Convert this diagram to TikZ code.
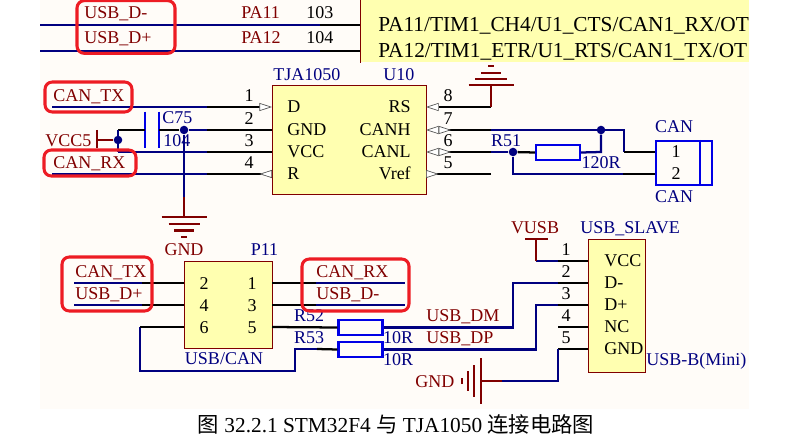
\documentclass[tikz,border=0pt]{standalone}
\usepackage{fontspec}
\setmainfont{Liberation Serif}
\newfontfamily\cjk{Noto Sans CJK SC}
\usepackage{tikz}
\usetikzlibrary{arrows.meta}
\definecolor{scBack}{HTML}{FFFCF8}
\definecolor{scChip}{HTML}{FFFFB0}
\definecolor{scEdge}{HTML}{800000}
\definecolor{scNavy}{HTML}{000080}
\definecolor{scBlue}{HTML}{0000E6}
\definecolor{scMark}{HTML}{ED1C24}
\definecolor{scTip}{HTML}{505050}

\begin{document}
\begin{tikzpicture}[
    x=0.75pt, y=-0.75pt,
    txt/.style={font=\fontsize{13.5}{14}\selectfont, inner sep=0pt, text height=8.9pt, text depth=0pt},
    net/.style={txt, text=scEdge},
    des/.style={txt, text=scNavy},
    pinno/.style={txt, text=black},
    chip/.style={rectangle, draw=scEdge, line width=0.7pt, fill=scChip, inner sep=0pt},
    res/.style={rectangle, draw=scBlue, line width=1.8pt, fill=none, inner sep=0pt, minimum width=33pt, minimum height=11.25pt},
    redring/.style={rectangle, draw=scMark, line width=2.3pt, rounded corners=5.5pt, fill=none, inner sep=0pt},
    bus/.style={draw=scNavy, line width=1.7pt},
    stub/.style={draw=black, line width=1.7pt},
    pow/.style={draw=scEdge, line width=1.7pt},
    dot/.style={circle, fill=scNavy, inner sep=0pt, minimum size=6.4pt},
    intip/.style={-{Triangle[length=9.5pt,width=6pt,fill=white,color=scTip,line width=0.5pt]}},
    outtip/.style={-{Triangle[reversed,length=9.5pt,width=6pt,fill=white,color=scTip,line width=0.5pt]}},
    iotip/.style={-{Triangle[reversed,length=9.5pt,width=6pt,fill=white,color=scTip,line width=0.5pt]Triangle[length=9.5pt,width=6pt,fill=white,color=scTip,line width=0.5pt]}},
  ]
  \useasboundingbox (0,0) rectangle (799,442);
  \fill[scBack] (40,0) rectangle (749,409);
  % MCU strip
  \node[rectangle, fill=scChip, inner sep=0pt, anchor=north west, minimum width=291.75pt, minimum height=46.5pt] (MCU) at (360,0) {};
  \draw[draw=scEdge, line width=0.7pt] (MCU.north west) -- (MCU.south west);
  \node[txt, anchor=west, font=\fontsize{16}{17}\selectfont] (mcuA) at (378,26) {PA11/TIM1\_CH4/U1\_CTS/CAN1\_RX/OT};
  \node[txt, anchor=west, font=\fontsize{16}{17}\selectfont] (mcuB) at (378,52) {PA12/TIM1\_ETR/U1\_RTS/CAN1\_TX/OT};
  % parts
  \node[chip, minimum width=115.5pt, minimum height=81.4pt] (U10) at (349,140) {};
  \node[chip, minimum width=66pt, minimum height=65.25pt] (P11) at (228,304.5) {};
  \node[chip, minimum width=43.1pt, minimum height=99.75pt] (USB) at (616.75,305.5) {};
  \node[rectangle, draw=scBlue, line width=1.8pt, fill=none, inner sep=0pt, minimum width=42pt, minimum height=33pt] (CAN) at (684,163) {};
  \draw[draw=scBlue, line width=1.8pt] ([xshift=33.75pt]CAN.north west) -- ([xshift=33.75pt]CAN.south west);
  \node[res] (R51) at (558,152.5) {};
  \node[res] (R52) at (360.5,327.5) {};
  \node[res] (R53) at (360.5,349.5) {};
  \node[inner sep=0pt, minimum width=10.5pt, minimum height=27pt] (C75) at (152,130) {};
  \draw[draw=scBlue, line width=1.8pt] (C75.north west) -- (C75.south west);
  \draw[draw=scBlue, line width=1.8pt] (C75.north east) -- (C75.south east);
  % points
  \coordinate (mA) at (360,25);
  \coordinate (mB) at (360,51);
  \coordinate (mC) at (320,25);
  \coordinate (mD) at (320,51);
  \coordinate (mE) at (40,25);
  \coordinate (mF) at (40,51);
  \foreach \n/\y in {1/107,2/130,3/152,4/174}{
    \coordinate (Ua\n) at (272,\y);
    \coordinate (Ub\n) at (207,\y);
    \node[pinno] (Un\n) at (249,\y-11) {\n};
  }
  \foreach \n/\y in {8/107,7/130,6/152,5/174}{
    \coordinate (Uc\n) at (426,\y);
    \coordinate (Ud\n) at (491,\y);
    \node[pinno] (Un\n) at (448,\y-11) {\n};
  }
  \foreach \n/\y in {1/261,2/283,3/305,4/327,5/349}{
    \coordinate (Ja\n) at (588,\y);
    \coordinate (Jb\n) at (558,\y);
    \node[pinno] (Jn\n) at (566,\y-11) {\n};
  }
  \foreach \n/\y in {2/283,4/305,6/327}{
    \coordinate (Pa\n) at (184,\y);
    \coordinate (Pb\n) at (142,\y);
    \node[pinno] (Pn\n) at (204,\y+0.5) {\n};
  }
  \foreach \n/\y in {1/283,3/305,5/327}{
    \coordinate (Pa\n) at (272,\y);
    \coordinate (Pb\n) at (316,\y);
    \node[pinno] (Pn\n) at (252,\y+0.5) {\n};
  }
  \node[dot] (jA) at (184,130) {};
  \node[dot] (jB) at (118,140) {};
  \node[dot] (jC) at (601,130) {};
  \node[dot] (jD) at (513,152) {};
  \coordinate (Gl) at (184,217);
  \coordinate (Gm) at (184,197);
  \coordinate (Gr) at (491,85);
  \coordinate (Gb) at (481,381);
  \coordinate (vA) at (97,140);
  \coordinate (vD) at (97,130);
  \coordinate (vE) at (97,148);
  \coordinate (cT) at (118,130);
  \coordinate (cB) at (118,152);
  \coordinate (tS) at (52,107);
  \coordinate (rS) at (52,174);
  % MCU nets
  \draw[bus] (mE) -- (mC);
  \draw[bus] (mF) -- (mD);
  \draw[stub] (mC) -- (mA);
  \draw[stub] (mD) -- (mB);
  % TJA1050 left
  \draw[bus] (tS) -- (Ub1);
  \draw[stub, intip] (Ub1) -- (Ua1);
  \draw[bus] (jA) -- (Ub2);
  \draw[stub] (Ub2) -- (Ua2);
  \draw[bus] (cB) -- (Ub3);
  \draw[stub] (Ub3) -- (Ua3);
  \draw[bus] (rS) -- (Ub4);
  \draw[stub, outtip] (Ub4) -- (Ua4);
  \draw[stub] (cT) -- (C75.west);
  \draw[stub] (C75.east) -- (jA);
  \draw[bus] (cT) -- (cB);
  \draw[bus] (jA) -- (Gm);
  \draw[pow] (Gm) -- (Gl);
  \draw[pow] (vA) -- (jB);
  \draw[pow] (vD) -- (vE);
  \foreach \off/\half in {0/22.5,7/15.5,13.5/10,20/3}{
    \draw[pow] ([shift={(-\half,\off)}]Gl) -- ([shift={(\half,\off)}]Gl);
  }
  % TJA1050 right
  \draw[stub, intip] (Ud8) -- (Uc8);
  \draw[pow] (Ud8) -- (Gr);
  \foreach \off/\half in {0/22.5,-6/16,-12/10,-19/3}{
    \draw[pow] ([shift={(-\half,\off)}]Gr) -- ([shift={(\half,\off)}]Gr);
  }
  \coordinate (wA) at (624,130);
  \coordinate (wB) at (624,152);
  \coordinate (wC) at (513,174);
  \coordinate (wD) at (623,174);
  \coordinate (wE) at (601,152);
  \draw[bus] (Ud7) -- (wA) -- (wB);
  \draw[stub] (wB) -- (CAN.west |- wB);
  \draw[bus] (Ud6) -- (jD);
  \draw[stub] (jD) -- (R51.west);
  \draw[bus] (R51.east) -- (wE) -- (jC);
  \draw[bus] (jD) -- (wC) -- (wD);
  \draw[stub] (wD) -- (CAN.west |- wD);
  \draw[stub, iotip] (Ud7) -- (Uc7);
  \draw[stub, iotip] (Ud6) -- (Uc6);
  \draw[stub, outtip] (Ud5) -- (Uc5);
  % P11 nets
  \coordinate (kA) at (74,283);
  \coordinate (kB) at (74,305);
  \coordinate (kC) at (405,283);
  \coordinate (kD) at (405,305);
  \draw[bus] (kA) -- (Pb2);
  \draw[bus] (kB) -- (Pb4);
  \draw[stub] (Pb2) -- (Pa2);
  \draw[stub] (Pb4) -- (Pa4);
  \draw[stub] (Pb1) -- (Pa1);
  \draw[stub] (Pb3) -- (Pa3);
  \draw[bus] (Pb1) -- (kC);
  \draw[bus] (Pb3) -- (kD);
  \coordinate (lA) at (140,327);
  \coordinate (lB) at (140,371);
  \coordinate (lC) at (295,371);
  \coordinate (lD) at (295,349);
  \coordinate (lE) at (317,349);
  \draw[bus] (lA) -- (lB) -- (lC) -- (lD) -- (lE);
  \draw[stub] (lE) -- (R53.west);
  \draw[stub] (lA) -- (Pa6);
  \draw[stub] (Pa5) -- (R52.west);
  % USB connector nets
  \coordinate (dA) at (513,327.5);
  \coordinate (dB) at (513,283);
  \coordinate (dC) at (536,349.5);
  \coordinate (dD) at (536,305);
  \draw[bus] (R52.east) -- (dA) -- (dB) -- (Jb2);
  \draw[bus] (R53.east) -- (dC) -- (dD) -- (Jb3);
  \foreach \n in {1,2,3,4,5}{
    \draw[stub] (Jb\n) -- (Ja\n);
  }
  \coordinate (vB) at (536,261);
  \coordinate (vC) at (536,239);
  \coordinate (vF) at (525,239);
  \coordinate (vG) at (548,239);
  \draw[bus] (Jb1) -- (vB);
  \draw[pow] (vB) -- (vC);
  \draw[draw=scEdge, line width=2.2pt] (vF) -- (vG);
  \coordinate (gA) at (558,381);
  \coordinate (gB) at (502,381);
  \draw[bus] (Jb5) -- (gA) -- (gB);
  \draw[pow] (gB) -- (Gb);
  \foreach \off/\half in {0/23,-7/16,-13/10,-19/3}{
    \draw[pow] ([shift={(\off,-\half)}]Gb) -- ([shift={(\off,\half)}]Gb);
  }
  % net labels
  \node[net, anchor=west] (tA) at (84,13) {USB\_D-};
  \node[net, anchor=west] (tB) at (84,38) {USB\_D+};
  \node[net, anchor=west] (tC) at (241,13) {PA11};
  \node[net, anchor=west] (tD) at (241,38) {PA12};
  \node[pinno, anchor=west] (tE) at (306,13) {103};
  \node[pinno, anchor=west] (tF) at (306,38) {104};
  \node[net, anchor=west] (tG) at (53,96) {CAN\_TX};
  \node[net, anchor=west] (tH) at (53,163) {CAN\_RX};
  \node[net, anchor=west] (tI) at (45,141) {VCC5};
  \node[des, anchor=west] (tJ) at (273,75) {TJA1050};
  \node[des, anchor=west] (tK) at (383,75) {U10};
  \node[des, anchor=west] (tL) at (162,118) {C75};
  \node[des, anchor=west] (tM) at (163,141) {104};
  \node[net] (tN) at (184,250) {GND};
  \foreach \s/\y in {D/107,GND/130,VCC/152,R/174}{
    \node[txt, anchor=west] (In\s) at (287,\y) {\s};
  }
  \foreach \s/\y in {RS/107,CANH/130,CANL/152,Vref/174}{
    \node[txt, anchor=east] (In\s) at (411,\y) {\s};
  }
  \node[des] (tO) at (506,141) {R51};
  \node[des] (tP) at (601,163) {120R};
  \node[des] (tQ) at (674,127) {CAN};
  \node[des] (tR) at (674,197) {CAN};
  \node[pinno] (tS1) at (676,152) {1};
  \node[pinno] (tS2) at (676,174) {2};
  \node[des] (tT) at (264.5,250) {P11};
  \node[net, anchor=west] (tU) at (75,272) {CAN\_TX};
  \node[net, anchor=west] (tV) at (75,294) {USB\_D+};
  \node[net, anchor=west] (tW) at (316,272) {CAN\_RX};
  \node[net, anchor=west] (tX) at (316,294) {USB\_D-};
  \node[des] (tY) at (224,359) {USB/CAN};
  \node[des] (tZ) at (309,316) {R52};
  \node[des] (uA) at (309,338) {R53};
  \node[des] (uB) at (398,338) {10R};
  \node[des] (uC) at (398,360) {10R};
  \node[net, anchor=west] (uD) at (426,316) {USB\_DM};
  \node[net, anchor=west] (uE) at (426,338) {USB\_DP};
  \node[net] (uF) at (535,228) {VUSB};
  \node[des, anchor=west] (uG) at (580,228) {USB\_SLAVE};
  \foreach \s/\y in {VCC/261,D-/283,D+/305,NC/327,GND/349}{
    \node[txt, anchor=west] (Jt\s) at (604,\y) {\s};
  }
  \node[des, anchor=west] (uH) at (646,360) {USB-B(Mini)};
  \node[net, anchor=west] (uI) at (415,382) {GND};
  % red marks
  \node[redring, minimum width=73.5pt, minimum height=39.5pt] (mkA) at (126,27) {};
  \node[redring, minimum width=65.25pt, minimum height=22.5pt] (mkB) at (88.5,97) {};
  \node[redring, minimum width=69pt, minimum height=19.5pt] (mkC) at (90,163) {};
  \node[redring, minimum width=67.5pt, minimum height=40.5pt] (mkD) at (107,284) {};
  \node[redring, minimum width=80.25pt, minimum height=39pt] (mkE) at (355.5,285) {};
  % caption
  \node[txt, font=\fontsize{16}{17}\selectfont, text height=11pt, text depth=2pt] (cap) at (396,426) {{\cjk 图} 32.2.1 STM32F4 {\cjk 与} TJA1050 {\cjk 连接电路图}};
\end{tikzpicture}
\end{document}
